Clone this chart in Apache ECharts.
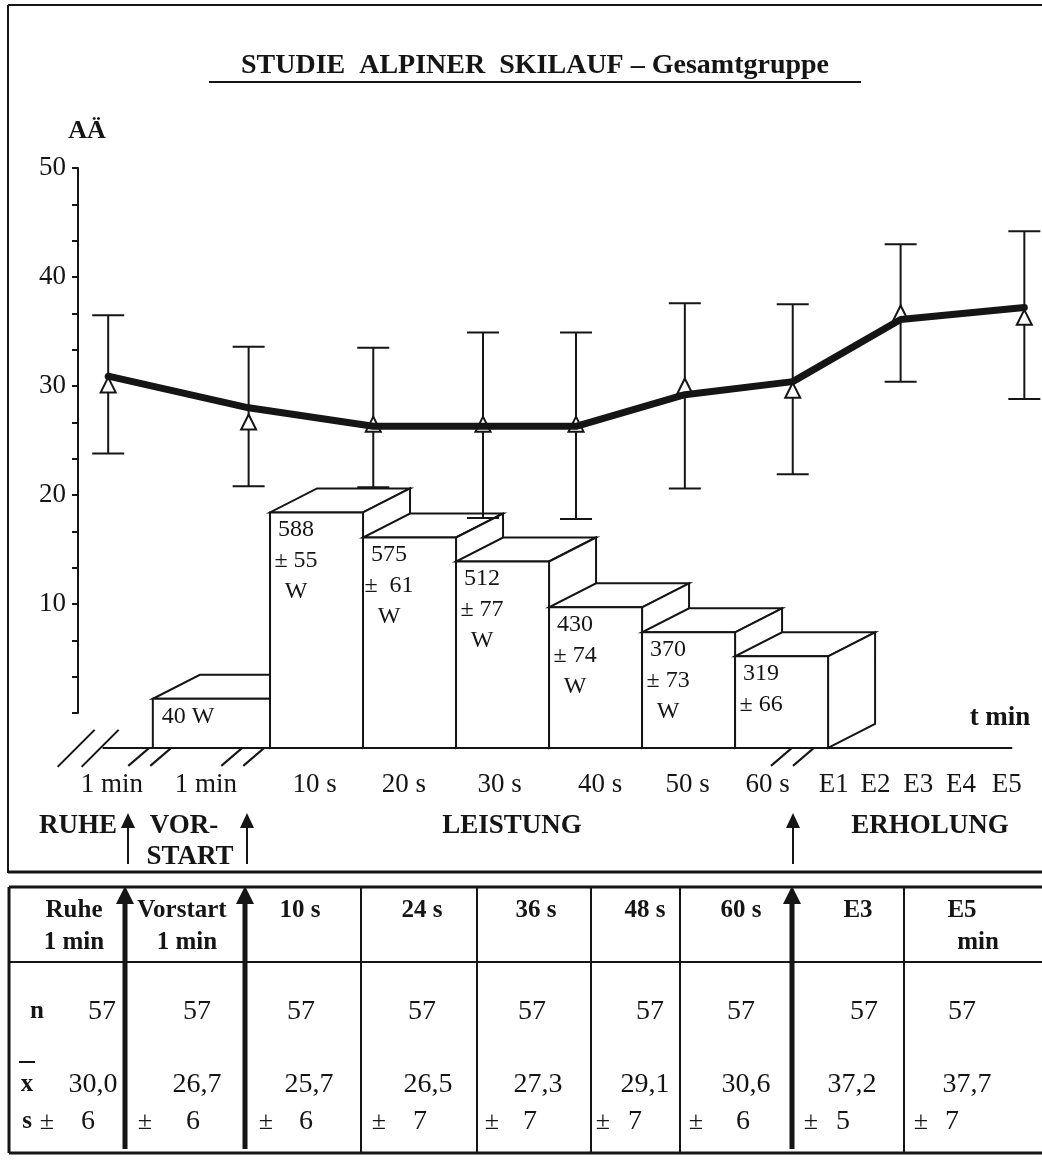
<!DOCTYPE html>
<html><head><meta charset="utf-8">
<script src="https://cdn.jsdelivr.net/npm/echarts@6/dist/echarts.min.js"></script>
<style>html,body{margin:0;padding:0;background:#fff}#c{width:1042px;height:1166px}</style>
</head><body><div id="c"></div>
<script>
// ---------- DATA ----------
const pointT = [-17.4, -2.3, 11.1, 22.9, 32.9, 44.6, 56.2, 67.8, 81.1];
const lineValues = [30.9, 28.0, 26.3, 26.3, 26.3, 29.2, 30.4, 36.1, 37.2];
const triangleValues = [30.1, 26.7, 26.5, 26.5, 26.5, 30.0, 29.6, 36.7, 36.3];
const errLow = [23.8, 20.8, 20.7, 17.9, 17.8, 20.6, 21.9, 30.4, 28.8];
const errHigh = [36.5, 33.6, 33.5, 34.9, 34.9, 37.6, 37.5, 43.0, 44.2];

const stepStart = [-12.6, 0, 10, 20, 30, 40, 50];
const stepEnd = [0, 10, 20, 30, 40, 50, 60];
const stepHeight = [1.3, 18.4, 16.1, 13.9, 9.7, 7.4, 5.2];
const stepLabels = ['40 W', '588\n± 55\nW', '575\n±  61\nW', '512\n± 77\nW', '430\n± 74\nW', '370\n± 73\nW', '319\n± 66'];
const baseLevel = -3.2;

const tickT = [-17.0, -6.9, 4.8, 14.4, 24.7, 35.5, 44.9, 53.5, 60.6, 65.1, 69.7, 74.3, 79.2];
const tickLabels = ['1 min', '1 min', '10 s', '20 s', '30 s', '40 s', '50 s', '60 s', 'E1', 'E2', 'E3', 'E4', 'E5'];

const tableHead1 = ['Ruhe', 'Vorstart', '10 s', '24 s', '36 s', '48 s', '60 s', 'E3', 'E5'];
const tableHead2 = ['1 min', '1 min', '', '', '', '', '', '', 'min'];
const tableN = [57, 57, 57, 57, 57, 57, 57, 57, 57];
const tableMean = ['30,0', '26,7', '25,7', '26,5', '27,3', '29,1', '30,6', '37,2', '37,7'];
const tableSD = [6, 6, 6, 7, 7, 7, 6, 5, 7];

// ---------- LAYOUT ----------
const FONT = '"Liberation Serif", "Times New Roman", serif';
const INK = '#151515';
const breakT = [-11.8, -1.8, 57.3];
const colEdges = [9, 125, 245, 361, 477, 591, 680, 792, 904, 1046];
const arrowCols = [125, 245, 792];
const head1X = [74, 182, 300, 422, 536, 645, 741, 858, 962];
const head2X = [74, 187, 0, 0, 0, 0, 0, 0, 978];
const nX = [102, 197, 301, 422, 532, 650, 741, 864, 962];
const meanX = [93, 197, 309, 428, 538, 645, 746, 852, 967];
const pmX = [47, 145, 266, 379, 492, 603, 696, 811, 921];
const sdX = [88, 193, 306, 420, 530, 635, 743, 843, 952];

function txt(text, x, y, size, bold, align, extra) {
  return Object.assign({ type: 'text', silent: true, style: {
    text: text, x: x, y: y, fill: INK, align: align || 'center', verticalAlign: 'middle',
    font: (bold ? 'bold ' : '') + size + 'px ' + FONT } }, extra || {});
}
function ln(x1, y1, x2, y2, w) {
  return { type: 'line', silent: true, shape: { x1: x1, y1: y1, x2: x2, y2: y2 }, style: { stroke: INK, lineWidth: w || 2 } };
}
function arrowUp(x, yBottom, yTip, w, head, hw) {
  return [ln(x, yBottom, x, yTip + head - 2, w),
    { type: 'polygon', silent: true, shape: { points: [[x - hw, yTip + head], [x + hw, yTip + head], [x, yTip]] }, style: { fill: INK } }];
}

// ---------- GRAPHIC (frame, title, annotations, table) ----------
const graphics = [];
graphics.push(ln(8, 5, 1042, 5, 2), ln(8, 5, 8, 873, 2), ln(8, 872, 1042, 872, 3));
graphics.push(txt('STUDIE  ALPINER  SKILAUF – Gesamtgruppe', 535, 66, 28, true));
graphics.push(ln(209, 82, 861, 82, 2));
graphics.push(txt('AÄ', 87, 131, 26, true));
graphics.push(txt('t min', 1000, 718, 27, true));
graphics.push(txt('RUHE', 78, 826, 27, true), txt('VOR-', 184, 826, 27, true), txt('START', 190, 857, 27, true),
  txt('LEISTUNG', 512, 826, 27, true), txt('ERHOLUNG', 930, 826, 27, true));
[128, 247, 793].forEach(x => arrowUp(x, 864, 813, 2, 15, 7).forEach(g => graphics.push(g)));

// table
const tTop = 887, tHead = 962, tBot = 1153;
graphics.push(ln(9, tTop, 1046, tTop, 3), ln(9, tBot, 1046, tBot, 3), ln(9, tTop, 9, tBot, 3), ln(9, tHead, 1046, tHead, 2));
colEdges.slice(1, -1).forEach(x => { if (arrowCols.indexOf(x) < 0) graphics.push(ln(x, tTop, x, tBot, 2)); });
arrowCols.forEach(x => arrowUp(x, 1149, 886, 5, 18, 9).forEach(g => graphics.push(g)));
tableHead1.forEach((h, i) => graphics.push(txt(h, head1X[i], 911, 25, true)));
tableHead2.forEach((h, i) => { if (h) graphics.push(txt(h, head2X[i], 943, 25, true)); });
graphics.push(txt('n', 37, 1012, 25, true));
tableN.forEach((v, i) => graphics.push(txt(String(v), nX[i], 1012, 28, false)));
graphics.push(txt('x', 27, 1085, 25, true), ln(19, 1062, 35, 1062, 2));
tableMean.forEach((v, i) => graphics.push(txt(v, meanX[i], 1085, 28, false)));
graphics.push(txt('s', 27, 1122, 25, true));
tableSD.forEach((v, i) => { graphics.push(txt('±', pmX[i], 1122, 26, false)); graphics.push(txt(String(v), sdX[i], 1122, 28, false)); });

// ---------- SERIES RENDERERS ----------
function renderStep(params, api) {
  const i = params.dataIndex;
  const bl = api.coord([api.value(0), baseLevel]);
  const tr = api.coord([api.value(1), api.value(2)]);
  const L = bl[0], B = bl[1], R = tr[0], T = tr[1];
  const dx = 47, dy = -24;
  const st = { fill: '#fff', stroke: INK, lineWidth: 2, lineJoin: 'miter' };
  const label = stepLabels[i];
  const multi = label.indexOf('\n') >= 0;
  return { type: 'group', children: [
    { type: 'polygon', shape: { points: [[L, T], [R, T], [R + dx, T + dy], [L + dx, T + dy]] }, style: st },
    { type: 'polygon', shape: { points: [[R, T], [R + dx, T + dy], [R + dx, B + dy], [R, B]] }, style: st },
    { type: 'rect', shape: { x: L, y: T, width: R - L, height: B - T }, style: st },
    { type: 'text', style: { text: label, x: multi ? L + 26 : L + 9, y: T + 2, align: multi ? 'center' : 'left', verticalAlign: 'top',
        lineHeight: 31, fill: INK, font: '24px ' + FONT } }
  ] };
}
function renderErr(params, api) {
  const a = api.coord([api.value(0), api.value(1)]);
  const b = api.coord([api.value(0), api.value(2)]);
  const w = 16, st = { stroke: INK, lineWidth: 2 };
  return { type: 'group', children: [
    { type: 'line', shape: { x1: a[0], y1: a[1], x2: b[0], y2: b[1] }, style: st },
    { type: 'line', shape: { x1: a[0] - w, y1: a[1], x2: a[0] + w, y2: a[1] }, style: st },
    { type: 'line', shape: { x1: b[0] - w, y1: b[1], x2: b[0] + w, y2: b[1] }, style: st }
  ] };
}
function renderBase(params, api) {
  const a = api.coord([api.value(0), baseLevel]);
  const b = api.coord([api.value(1), baseLevel]);
  const st = { stroke: INK, lineWidth: 2 };
  const ch = [{ type: 'line', shape: { x1: a[0], y1: a[1], x2: b[0], y2: b[1] }, style: st }];
  [-12, 12].forEach(o => ch.push({ type: 'line', shape: { x1: a[0] + o - 33, y1: a[1] + 19, x2: a[0] + o + 4, y2: a[1] - 18 }, style: st }));
  breakT.forEach(t => {
    const p = api.coord([t, baseLevel]);
    [-11, 11].forEach(o => ch.push({ type: 'line', shape: { x1: p[0] + o - 21, y1: p[1] + 18, x2: p[0] + o, y2: p[1] }, style: st }));
  });
  return { type: 'group', children: ch };
}
function renderTick(params, api) {
  const p = api.coord([api.value(0), baseLevel]);
  return { type: 'text', style: { text: tickLabels[params.dataIndex], x: p[0], y: p[1] + 37, align: 'center', verticalAlign: 'middle',
    fill: INK, font: '27px ' + FONT } };
}

const chart = echarts.init(document.getElementById('c'), null, { renderer: 'canvas' });
chart.setOption({
  animation: false,
  backgroundColor: '#fff',
  grid: { left: 84, right: 0, top: 168, bottom: 453, containLabel: false, outerBoundsMode: 'none' },
  xAxis: { type: 'value', min: -20, max: 83, show: false },
  yAxis: {
    type: 'value', min: 0, max: 50, interval: 10, offset: 6,
    axisLine: { show: true, onZero: false, lineStyle: { color: INK, width: 2 } },
    axisTick: { show: true, length: 6, lineStyle: { color: INK, width: 2 } },
    minorTick: { show: true, splitNumber: 3, length: 6, lineStyle: { color: INK, width: 2 } },
    splitLine: { show: false },
    axisLabel: { margin: 12, color: INK, fontSize: 27, fontFamily: FONT, showMinLabel: false,
      formatter: v => v === 0 ? '' : String(v) }
  },
  graphic: graphics,
  series: [
    { type: 'custom', z: 1, renderItem: renderBase, data: [[-18.0, 79.8]], encode: { x: [0, 1] }, silent: true },
    { type: 'custom', z: 2, renderItem: renderStep, encode: { x: [0, 1], y: 2 }, silent: true,
      data: stepStart.map((s, i) => [s, stepEnd[i], stepHeight[i]]) },
    { type: 'custom', z: 3, renderItem: renderErr, encode: { x: 0, y: [1, 2] }, silent: true,
      data: pointT.map((t, i) => [t, errLow[i], errHigh[i]]) },
    { type: 'scatter', z: 4, symbol: 'triangle', symbolSize: [15, 15], silent: true,
      itemStyle: { color: '#fff', borderColor: INK, borderWidth: 2, opacity: 1 },
      data: pointT.map((t, i) => [t, triangleValues[i]]) },
    { type: 'line', z: 5, showSymbol: false, silent: true, lineStyle: { color: INK, width: 7, join: 'round', cap: 'round' },
      data: pointT.map((t, i) => [t, lineValues[i]]) },
    { type: 'custom', z: 6, renderItem: renderTick, encode: { x: 0 }, silent: true,
      data: tickT.map(t => [t]) }
  ]
});
</script>
</body></html>
